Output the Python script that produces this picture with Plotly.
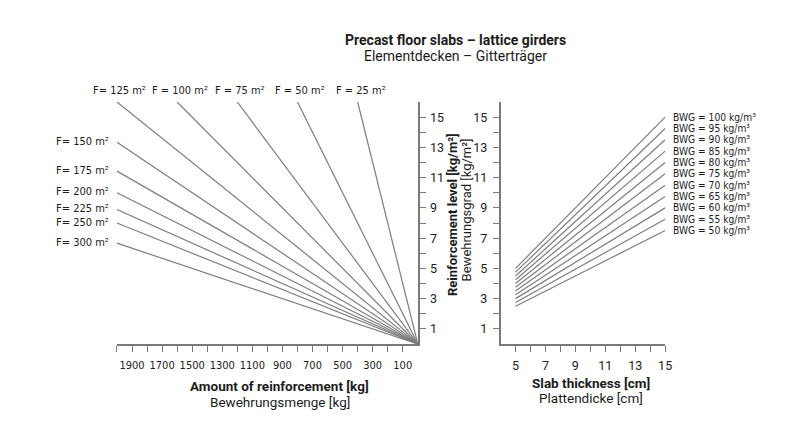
import plotly.graph_objects as go

# Floor areas (m²) for the fan of lines in the left chart
areas_top = [125, 100, 75, 50, 25]
area_labels_top = ["F= 125 m²", "F = 100 m²", "F = 75 m²", "F = 50 m²", "F = 25 m²"]
areas_side = [150, 175, 200, 225, 250, 300]
area_labels_side = ["F= 150 m²", "F= 175 m²", "F= 200 m²", "F= 225 m²", "F= 250 m²", "F= 300 m²"]

# Reinforcement densities (kg/m³) for the right chart
bwg = [100, 95, 90, 85, 80, 75, 70, 65, 60, 55, 50]
bwg_labels = ["BWG = %d kg/m³" % v for v in bwg]
thickness = [5, 15]  # slab thickness range in cm

amount_max = 2000  # kg
level_max = 16     # kg/m²

amount_ticks = list(range(100, 2001, 100))
amount_ticktext = [str(v) if v % 200 == 100 else "" for v in amount_ticks]
level_ticks = list(range(1, 16))
level_ticktext = [str(v) if v % 2 == 1 else "" for v in level_ticks]
thick_ticks = list(range(5, 16))
thick_ticktext = [str(v) if v % 2 == 1 else "" for v in thick_ticks]

LINE = "#7d7d7d"
AXIS = "#7a7a7a"
TEXT = "#1c1c1c"
LABEL_FONT = "DejaVu Sans Condensed, Liberation Sans, sans-serif"
TITLE_FONT = "Roboto, Liberation Sans, sans-serif"

fig = go.Figure()


def fan_end(area):
    """End point of a level = amount / area line, clipped to the chart box."""
    amount = min(amount_max, level_max * area)
    return amount, amount / area


annotations = []
label_font = dict(family=LABEL_FONT, size=11, color=TEXT)

for area, label in zip(areas_top, area_labels_top):
    xa, ya = fan_end(area)
    fig.add_trace(go.Scatter(x=[0, xa], y=[0, ya], mode="lines",
                             line=dict(color=LINE, width=1.2),
                             xaxis="x", yaxis="y", showlegend=False, hoverinfo="skip"))
    annotations.append(dict(x=xa, y=ya, xref="x", yref="y", text=label, showarrow=False,
                            xanchor="center", yanchor="middle", xshift=3, yshift=12,
                            font=label_font))

for area, label in zip(areas_side, area_labels_side):
    xa, ya = fan_end(area)
    fig.add_trace(go.Scatter(x=[0, xa], y=[0, ya], mode="lines",
                             line=dict(color=LINE, width=1.2),
                             xaxis="x", yaxis="y", showlegend=False, hoverinfo="skip"))
    annotations.append(dict(x=xa, y=ya, xref="x", yref="y", text=label, showarrow=False,
                            xanchor="right", yanchor="middle", xshift=-6, yshift=1,
                            font=label_font))

for rate, label in zip(bwg, bwg_labels):
    levels = [rate * t / 100 for t in thickness]
    fig.add_trace(go.Scatter(x=thickness, y=levels, mode="lines",
                             line=dict(color=LINE, width=1.2),
                             xaxis="x2", yaxis="y2", showlegend=False, hoverinfo="skip"))
    annotations.append(dict(x=thickness[-1], y=levels[-1], xref="x2", yref="y2", text=label,
                            showarrow=False, xanchor="left", yanchor="middle", xshift=6,
                            font=dict(family=LABEL_FONT, size=10.2, color=TEXT)))


def paper(px, py):
    return px / 800, 1 - py / 427


def text_at(px, py, text, size, bold=False, angle=0):
    x, y = paper(px, py)
    annotations.append(dict(x=x, y=y, xref="paper", yref="paper", showarrow=False,
                            text="<b>%s</b>" % text if bold else text, textangle=angle,
                            xanchor="center", yanchor="middle", borderpad=0,
                            font=dict(family=TITLE_FONT, size=size, color=TEXT)))


text_at(460, 40, "Precast floor slabs – lattice girders", 14, bold=True)
text_at(460, 55.5, "Elementdecken – Gitterträger", 14)
text_at(282, 386, "Amount of reinforcement [kg]", 13.5, bold=True)
text_at(282, 401.5, "Bewehrungsmenge [kg]", 13.5)
text_at(596, 382.5, "Slab thickness [cm]", 13.5, bold=True)
text_at(596, 398, "Plattendicke [cm]", 13.5)
text_at(456, 215, "Reinforcement level [kg/m²]", 13, bold=True, angle=-90)
text_at(470.5, 210, "Bewehrungsgrad [kg/m²]", 13, angle=-90)

left_dom = [118 / 800, 421.5 / 800]
right_dom = [505 / 800, 671 / 800]
y_dom = [1 - 344 / 427, 1 - 102 / 427]

common = dict(showgrid=False, zeroline=False, tickcolor=AXIS, tickwidth=1.2, ticklen=6)
tickfont_x = dict(family=LABEL_FONT, size=11, color=TEXT)
tickfont_y = dict(family=TITLE_FONT, size=12.5, color=TEXT)

fig.update_layout(
    width=800, height=427,
    margin=dict(l=0, r=0, t=0, b=0),
    paper_bgcolor="white", plot_bgcolor="white",
    annotations=annotations,
    # left chart: amount of reinforcement (reversed) vs. level
    xaxis=dict(domain=left_dom, range=[amount_max, 0], anchor="y", showline=True,
               linecolor=AXIS, linewidth=1.5, ticks="outside", tickvals=amount_ticks,
               ticktext=amount_ticktext, tickfont=tickfont_x, ticklabelstandoff=4, **common),
    xaxis3=dict(overlaying="x", range=[amount_max, 0], anchor="y", showline=False,
                ticks="inside", tickvals=amount_ticks, showticklabels=False, **common),
    yaxis=dict(domain=y_dom, range=[0, level_max], anchor="x", side="right", showline=True,
               linecolor=AXIS, linewidth=1.5, ticks="outside", tickvals=level_ticks,
               ticktext=level_ticktext, tickfont=tickfont_y, ticklabelstandoff=2, **common),
    yaxis3=dict(overlaying="y", range=[0, level_max], anchor="x", side="right", showline=False,
                ticks="inside", tickvals=level_ticks, showticklabels=False, **common),
    # right chart: slab thickness vs. level
    xaxis2=dict(domain=right_dom, range=[4, 15], anchor="y2", showline=True,
                linecolor=AXIS, linewidth=1.5, ticks="outside", tickvals=thick_ticks,
                ticktext=thick_ticktext, tickfont=tickfont_y, ticklabelstandoff=3, **common),
    xaxis4=dict(overlaying="x2", range=[4, 15], anchor="y2", showline=False,
                ticks="inside", tickvals=thick_ticks, showticklabels=False, **common),
    yaxis2=dict(domain=y_dom, range=[0, level_max], anchor="x2", side="left", showline=True,
                linecolor=AXIS, linewidth=1.5, ticks="outside", tickvals=level_ticks,
                ticktext=level_ticktext, tickfont=tickfont_y, ticklabelstandoff=3, **common),
    yaxis4=dict(overlaying="y2", range=[0, level_max], anchor="x2", side="left", showline=False,
                ticks="inside", tickvals=level_ticks, showticklabels=False, **common),
)

fig.write_html("out.html")
